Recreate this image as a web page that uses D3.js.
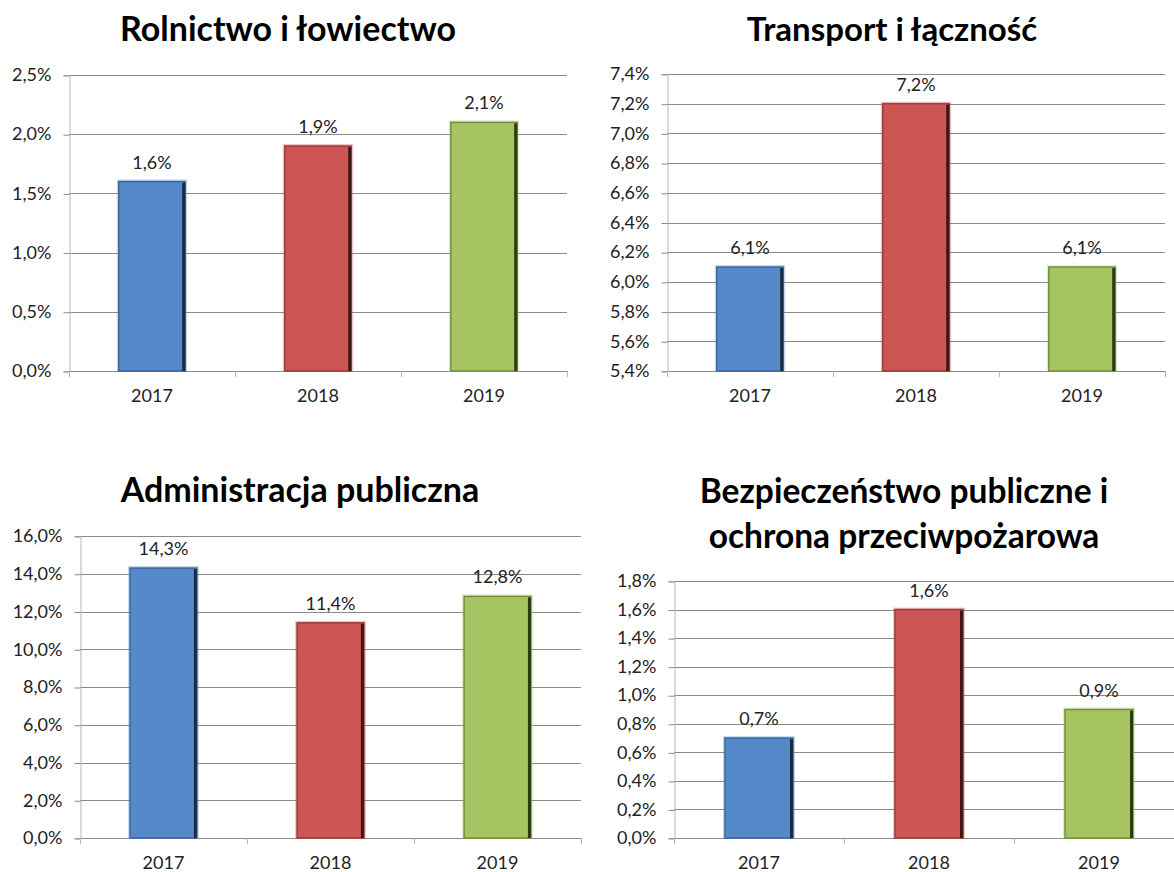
<!DOCTYPE html>
<html>
<head>
<meta charset="utf-8">
<script src="https://cdn.jsdelivr.net/npm/d3@7"></script>
<style>
  body { margin: 0; background: #ffffff; }
  text { font-family: Lato, "Liberation Sans", sans-serif; fill: #222222; }
  .title { font-weight: bold; font-size: 34px; fill: #000000; }
  .tick-label { font-size: 18px; }
  .value-label { font-size: 18px; }
</style>
</head>
<body>
<div class="svg-container"></div>
<script>
var width = 1174;
var height = 872;

// data
var years = ["2017", "2018", "2019"];
var barColors = ["#5589c9", "#cd5654", "#a6c562"];
var edgeColors = ["#3b67a0", "#9c3b39", "#71903b"];
var shadowColors = ["#1b2a40", "#3f1716", "#2c3a16"];

var rolnictwoTitle = ["Rolnictwo i łowiectwo"];
var rolnictwoValues = [1.6, 1.9, 2.1];
var rolnictwoTicks = [0, 0.5, 1.0, 1.5, 2.0, 2.5];

var transportTitle = ["Transport i łączność"];
var transportValues = [6.1, 7.2, 6.1];
var transportTicks = [5.4, 5.6, 5.8, 6.0, 6.2, 6.4, 6.6, 6.8, 7.0, 7.2, 7.4];

var administracjaTitle = ["Administracja publiczna"];
var administracjaValues = [14.3, 11.4, 12.8];
var administracjaTicks = [0, 2, 4, 6, 8, 10, 12, 14, 16];

var bezpieczenstwoTitle = ["Bezpieczeństwo publiczne i", "ochrona przeciwpożarowa"];
var bezpieczenstwoValues = [0.7, 1.6, 0.9];
var bezpieczenstwoTicks = [0, 0.2, 0.4, 0.6, 0.8, 1.0, 1.2, 1.4, 1.6, 1.8];

var svg = d3.select(".svg-container")
            .append("svg")
            .attr("width", width)
            .attr("height", height);

// "1,5%" style labels
function formatPct(v) {
  return d3.format(".1f")(v).replace(".", ",") + "%";
}

drawChart({ x0: 69,  x1: 567,  yTop: 75,  yBottom: 371, titleX: 288, titleY: 41, titleSize: 34 },
          rolnictwoTitle, rolnictwoValues, rolnictwoTicks);
drawChart({ x0: 667, x1: 1165, yTop: 74,  yBottom: 371, titleX: 892, titleY: 41, titleSize: 33 },
          transportTitle, transportValues, transportTicks);
drawChart({ x0: 80,  x1: 581,  yTop: 536, yBottom: 838, titleX: 300, titleY: 502, titleSize: 34 },
          administracjaTitle, administracjaValues, administracjaTicks);
drawChart({ x0: 674, x1: 1184, yTop: 581, yBottom: 838, titleX: 904, titleY: 503, titleSize: 33.5, lineGap: 45 },
          bezpieczenstwoTitle, bezpieczenstwoValues, bezpieczenstwoTicks);

function drawChart(box, titleLines, values, ticks) {
  var g = svg.append("g");

  var scaleX = d3.scaleBand()
                 .domain(years)
                 .range([box.x0, box.x1])
                 .paddingInner(0.6)
                 .paddingOuter(0.3);

  var scaleY = d3.scaleLinear()
                 .domain([ticks[0], ticks[ticks.length - 1]])
                 .range([box.yBottom, box.yTop]);

  var step = scaleX.step();

  // gridlines
  g.append("g")
    .selectAll("line")
    .data(ticks.slice(1))
    .enter()
    .append("line")
      .attr("x1", box.x0)
      .attr("x2", box.x1)
      .attr("y1", function(d) { return Math.round(scaleY(d)) + 0.5; })
      .attr("y2", function(d) { return Math.round(scaleY(d)) + 0.5; })
      .attr("stroke", "#8a8a8a")
      .attr("stroke-width", 1);

  // y axis
  var yAxis = g.append("g")
    .attr("transform", "translate(" + (box.x0 + 0.5) + ",0)")
    .call(d3.axisLeft(scaleY).tickValues(ticks).tickSize(6).tickPadding(12).tickFormat(formatPct));
  yAxis.select(".domain").attr("stroke", "#b5b5b5");
  yAxis.selectAll(".tick line").attr("stroke", "#8a8a8a").attr("transform", "translate(0,0.5)");
  yAxis.selectAll(".tick text")
    .attr("class", "tick-label")
    .attr("fill", "#222222")
    .style("font-family", "Lato, 'Liberation Sans', sans-serif")
    .style("font-size", "18px");

  // x axis line with boundary ticks
  var xg = g.append("g");
  xg.append("line")
    .attr("x1", box.x0)
    .attr("x2", box.x1)
    .attr("y1", Math.round(box.yBottom) + 0.5)
    .attr("y2", Math.round(box.yBottom) + 0.5)
    .attr("stroke", "#8a8a8a");

  xg.selectAll(".bound")
    .data(years.map(function(d, i) { return i; }).concat([years.length]))
    .enter()
    .append("line")
      .attr("class", "bound")
      .attr("x1", function(i) { return Math.round(box.x0 + i * step) + 0.5; })
      .attr("x2", function(i) { return Math.round(box.x0 + i * step) + 0.5; })
      .attr("y1", box.yBottom)
      .attr("y2", box.yBottom + 6)
      .attr("stroke", "#b5b5b5");

  xg.selectAll(".year")
    .data(years)
    .enter()
    .append("text")
      .attr("class", "tick-label")
      .attr("x", function(d) { return scaleX(d) + scaleX.bandwidth() / 2; })
      .attr("y", box.yBottom + 31)
      .attr("text-anchor", "middle")
      .text(function(d) { return d; });

  // bars
  var bars = g.append("g")
    .selectAll("g")
    .data(values)
    .enter()
    .append("g");

  bars.append("rect")
      .attr("x", function(d, i) { return scaleX(years[i]) - 1; })
      .attr("y", function(d) { return scaleY(d) - 1; })
      .attr("width", scaleX.bandwidth() + 2)
      .attr("height", function(d) { return box.yBottom - scaleY(d) + 1; })
      .attr("fill", "none")
      .attr("stroke", function(d, i) { return barColors[i]; })
      .attr("stroke-opacity", 0.35)
      .attr("stroke-width", 2);

  bars.append("rect")
      .attr("x", function(d, i) { return scaleX(years[i]); })
      .attr("y", function(d) { return scaleY(d); })
      .attr("width", scaleX.bandwidth())
      .attr("height", function(d) { return box.yBottom - scaleY(d); })
      .attr("fill", function(d, i) { return barColors[i]; })
      .attr("stroke", function(d, i) { return edgeColors[i]; })
      .attr("stroke-width", 1.5);

  bars.append("rect")
      .attr("x", function(d, i) { return scaleX(years[i]) + scaleX.bandwidth() - 3; })
      .attr("y", function(d) { return scaleY(d) + 1; })
      .attr("width", 3)
      .attr("height", function(d) { return box.yBottom - scaleY(d) - 1; })
      .attr("fill", function(d, i) { return shadowColors[i]; });

  // value labels
  bars.append("text")
      .attr("class", "value-label")
      .attr("x", function(d, i) { return scaleX(years[i]) + scaleX.bandwidth() / 2; })
      .attr("y", function(d) { return scaleY(d) - 13; })
      .attr("text-anchor", "middle")
      .text(function(d) { return formatPct(d); });

  // title
  var lineGap = box.lineGap || 0;
  g.append("g")
    .selectAll("text")
    .data(titleLines)
    .enter()
    .append("text")
      .attr("class", "title")
      .attr("x", box.titleX)
      .attr("y", function(d, i) { return box.titleY + i * lineGap; })
      .attr("text-anchor", "middle")
      .style("font-size", box.titleSize + "px")
      .text(function(d) { return d; });
}
</script>
</body>
</html>
